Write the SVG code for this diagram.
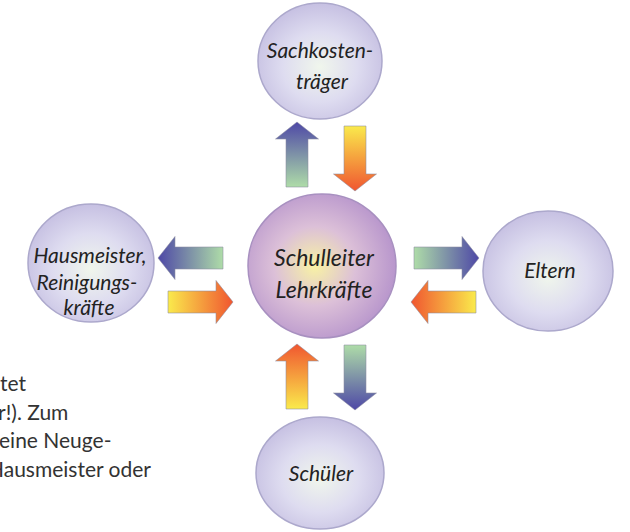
<svg xmlns="http://www.w3.org/2000/svg" width="630" height="532" viewBox="0 0 630 532">
<defs>
<style>
.node{fill:url(#gNode);stroke:#aca8cc;stroke-width:1.5}
.center{fill:url(#gCenter);stroke:#a890c0;stroke-width:1.5}
.lbl{font-family:Lato,"Open Sans","Liberation Sans",sans-serif;font-style:italic;font-size:21px;fill:#222;text-anchor:middle}
.big{font-size:23px}
.body{font-family:Lato,"Open Sans","Liberation Sans",sans-serif;font-size:21px;fill:#333}
.arr{stroke:#8c8ca0;stroke-width:1;stroke-opacity:0.55}
.out{fill:url(#gOut)}
.in{fill:url(#gIn)}
</style>
<radialGradient id="gNode" cx="0.5" cy="0.55" r="0.55">
<stop offset="0" stop-color="#f0f6ec"/>
<stop offset="0.55" stop-color="#dedcf0"/>
<stop offset="1" stop-color="#c6c0e2"/>
</radialGradient>
<radialGradient id="gCenter" cx="0.45" cy="0.5" r="0.55">
<stop offset="0" stop-color="#f8f2a4"/>
<stop offset="0.5" stop-color="#dcc0d8"/>
<stop offset="1" stop-color="#b896cc"/>
</radialGradient>
<linearGradient id="gOut" x1="0" y1="0" x2="1" y2="0">
<stop offset="0" stop-color="#aedca8"/>
<stop offset="1" stop-color="#4e48a6"/>
</linearGradient>
<linearGradient id="gIn" x1="0" y1="0" x2="1" y2="0">
<stop offset="0" stop-color="#faea4c"/>
<stop offset="1" stop-color="#f05630"/>
</linearGradient>
<path id="arrow" d="M0,-11 H48 V-21.5 L65,0 L48,21.5 V11 H0 Z"/>
</defs>
<rect width="630" height="532" fill="#ffffff"/>

<g id="body-text" class="body">
<text x="0" y="391">tet</text>
<text x="-2" y="420">r!). Zum</text>
<text x="-1" y="448">eine Neuge-</text>
<text x="-12" y="477">Hausmeister oder</text>
</g>

<g id="connectors">
<use href="#arrow" class="arr out" transform="translate(297,187) rotate(-90)"/>
<use href="#arrow" class="arr in" transform="translate(355,126) rotate(90)"/>
<use href="#arrow" class="arr out" transform="translate(223,258) rotate(180)"/>
<use href="#arrow" class="arr in" transform="translate(168,302)"/>
<use href="#arrow" class="arr out" transform="translate(414,258)"/>
<use href="#arrow" class="arr in" transform="translate(476,302) rotate(180)"/>
<use href="#arrow" class="arr in" transform="translate(297,409) rotate(-90)"/>
<use href="#arrow" class="arr out" transform="translate(355,345) rotate(90)"/>
</g>

<g id="sachkostentraeger">
<ellipse class="node" cx="320" cy="61" rx="62" ry="58"/>
<text class="lbl" x="320" y="58">Sachkosten-</text>
<text class="lbl" x="322" y="89">träger</text>
</g>

<g id="hausmeister">
<ellipse class="node" cx="91" cy="263" rx="63" ry="59"/>
<text class="lbl" x="90" y="263">Hausmeister,</text>
<text class="lbl" x="87" y="290">Reinigungs-</text>
<text class="lbl" x="89" y="315">kräfte</text>
</g>

<g id="schulleiter">
<ellipse class="center" cx="322" cy="266" rx="74" ry="72"/>
<text class="lbl big" x="324" y="266">Schulleiter</text>
<text class="lbl big" x="324" y="298">Lehrkräfte</text>
</g>

<g id="eltern">
<ellipse class="node" cx="548" cy="271" rx="65" ry="60"/>
<text class="lbl" x="550" y="278">Eltern</text>
</g>

<g id="schueler">
<ellipse class="node" cx="320" cy="473" rx="64" ry="56"/>
<text class="lbl" x="321" y="481">Schüler</text>
</g>
</svg>
